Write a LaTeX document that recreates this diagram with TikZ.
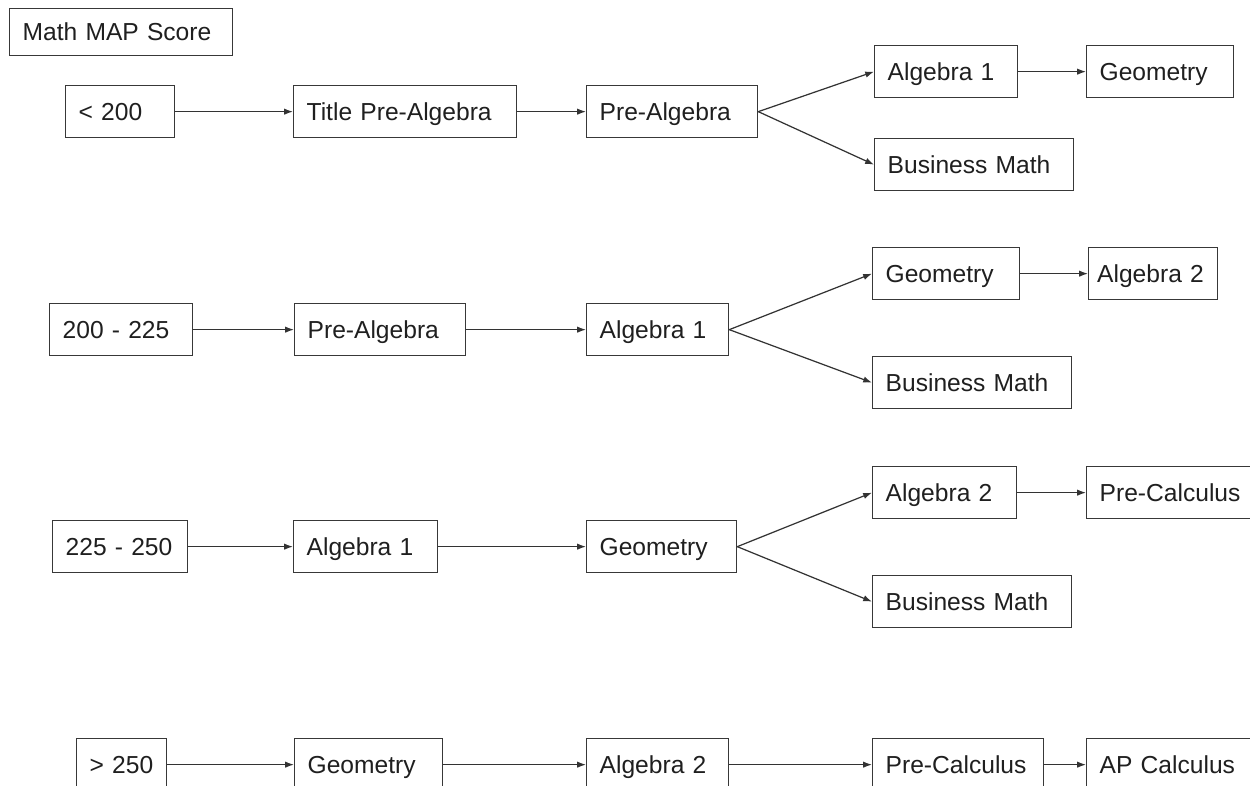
\documentclass[tikz,border=0pt]{standalone}
\usepackage{fontspec}
\setmainfont{Liberation Sans}
\usetikzlibrary{arrows.meta}

\begin{document}
\begin{tikzpicture}[x=0.02cm, y=-0.02cm,
  every node/.style={font=\fontsize{14}{16}\selectfont, text=black!88},
  box/.style={draw=black!78, line width=0.75pt, anchor=north west,
    inner xsep=0.26cm, inner ysep=0pt, minimum height=1.04cm,
    text height=0.45cm, text depth=0.096cm,
    text width=#1, align=left},
  conn/.style={draw=black!80, line width=0.7pt, -{Latex[length=5pt,width=3.6pt]}}]
\useasboundingbox (0,0) rectangle (1250,786);
\clip (0,0) rectangle (1250,786);

\node [box=3.94cm, minimum height=0.94cm] (title) at (9,8) {Math MAP Score};

% < 200
\node [box=1.66cm] (lowA) at (65,85) {< 200};
\node [box=3.94cm] (titlepreA) at (293,85) {Title Pre-Algebra};
\node [box=2.90cm] (preA) at (586,85) {Pre-Algebra};
\node [box=2.34cm] (algA) at (874,45) {Algebra 1};
\node [box=2.42cm] (geoA) at (1086,45) {Geometry};
\node [box=3.46cm] (busA) at (874,138) {Business Math};

% 200 - 225
\node [box=2.34cm] (rngB) at (49,303) {200 - 225};
\node [box=2.90cm] (preB) at (294,303) {Pre-Algebra};
\node [box=2.32cm] (algB) at (586,303) {Algebra 1};
\node [box=2.42cm] (geoB) at (872,247) {Geometry};
\node [box=2.24cm, inner xsep=0.17cm] (algtwoB) at (1088,247) {Algebra 2};
\node [box=3.46cm] (busB) at (872,356) {Business Math};

% 225 - 250
\node [box=2.18cm] (rngC) at (52,520) {225 - 250};
\node [box=2.36cm] (algC) at (293,520) {Algebra 1};
\node [box=2.48cm] (geoC) at (586,520) {Geometry};
\node [box=2.36cm] (algtwoC) at (872,466) {Algebra 2};
\node [box=3.08cm] (precalcC) at (1086,466) {Pre-Calculus};
\node [box=3.46cm] (busC) at (872,575) {Business Math};

% > 250
\node [box=1.28cm] (rngD) at (76,738) {> 250};
\node [box=2.44cm] (geoD) at (294,738) {Geometry};
\node [box=2.32cm] (algtwoD) at (586,738) {Algebra 2};
\node [box=2.90cm] (precalcD) at (872,738) {Pre-Calculus};
\node [box=3.08cm] (apD) at (1086,738) {AP Calculus};

\draw [conn] (lowA.east) -- (titlepreA.west);
\draw [conn] (titlepreA.east) -- (preA.west);
\draw [conn] (preA.east) -- (algA.west);
\draw [conn] (preA.east) -- (busA.west);
\draw [conn] (algA.east) -- (geoA.west);

\draw [conn] (rngB.east) -- (preB.west);
\draw [conn] (preB.east) -- (algB.west);
\draw [conn] (algB.east) -- (geoB.west);
\draw [conn] (algB.east) -- (busB.west);
\draw [conn] (geoB.east) -- (algtwoB.west);

\draw [conn] (rngC.east) -- (algC.west);
\draw [conn] (algC.east) -- (geoC.west);
\draw [conn] (geoC.east) -- (algtwoC.west);
\draw [conn] (geoC.east) -- (busC.west);
\draw [conn] (algtwoC.east) -- (precalcC.west);

\draw [conn] (rngD.east) -- (geoD.west);
\draw [conn] (geoD.east) -- (algtwoD.west);
\draw [conn] (algtwoD.east) -- (precalcD.west);
\draw [conn] (precalcD.east) -- (apD.west);
\end{tikzpicture}
\end{document}
